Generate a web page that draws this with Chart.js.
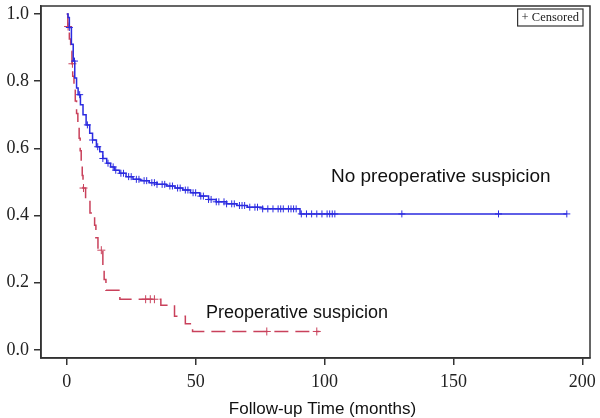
<!DOCTYPE html>
<html>
<head>
<meta charset="utf-8">
<script src="https://cdn.jsdelivr.net/npm/chart.js@4.4.0/dist/chart.umd.min.js"></script>
<style>
  html, body { margin: 0; padding: 0; background: #fff; }
  #wrap { width: 600px; height: 418px; }
</style>
</head>
<body>
<div id="wrap"><canvas id="km"></canvas></div>
<script>
// no preoperative suspicion (blue) - step points, months / survival
const noSuspTime = [0, 0.5, 1, 1.8, 2.5, 3.1, 3.8, 4.4, 5.3, 6.3, 7.5, 8.9, 10, 11.5, 12.8, 14, 15.5, 17, 18.5, 20.5, 23, 25.7, 28.5, 32, 35, 38.6, 42, 45, 48, 51.6, 55, 58, 62, 66, 70, 76, 90.5, 194];
const noSuspSurv = [1.0, 0.99, 0.96, 0.91, 0.86, 0.81, 0.78, 0.76, 0.73, 0.70, 0.67, 0.645, 0.625, 0.605, 0.59, 0.57, 0.556, 0.545, 0.535, 0.526, 0.516, 0.508, 0.504, 0.498, 0.493, 0.488, 0.482, 0.476, 0.468, 0.458, 0.448, 0.441, 0.435, 0.43, 0.425, 0.42, 0.405, 0.405];
const noSuspCensored = [1, 3, 5, 8, 10, 12, 14, 16, 18, 19, 21, 22, 24, 25, 27, 28, 30, 31, 33, 34, 35, 37, 38, 40, 41, 43, 44, 46, 47, 49, 50, 52, 53, 55, 56, 58, 59, 61, 62, 64, 65, 67, 68, 69, 71, 73, 74, 76, 78, 80, 82, 83, 84, 86, 87, 88, 89, 91, 93, 95, 97, 99, 101, 102, 103, 104, 130, 167.5, 194];

// preoperative suspicion (red)
const suspTime = [0, 0.4, 1.0, 1.5, 2.0, 2.3, 2.8, 3.3, 3.8, 4.3, 4.8, 5.2, 5.6, 6.0, 6.3, 7.3, 9.0, 10.8, 11.3, 12.1, 14.0, 14.5, 15.2, 20.6, 36.5, 41.8, 46, 48.8, 98];
const suspSurv = [1.0, 0.963, 0.926, 0.889, 0.852, 0.815, 0.778, 0.741, 0.704, 0.667, 0.63, 0.593, 0.556, 0.519, 0.482, 0.445, 0.408, 0.371, 0.334, 0.297, 0.25, 0.21, 0.178, 0.151, 0.133, 0.10, 0.078, 0.055, 0.055];
const suspCensored = [0.5, 2.2, 6.5, 13.4, 30.6, 32.4, 34, 77.6, 97];

const xTicks = [0, 50, 100, 150, 200];
const yTicks = [0.0, 0.2, 0.4, 0.6, 0.8, 1.0];

const blue = "#2b2be0";
const red = "#c9415b";

function toPts(t, s) {
  return t.map((v, i) => ({x: v, y: s[i]}));
}
// survival value of a step curve at time t
function survAt(t, s, at) {
  let val = s[0];
  for (let i = 0; i < t.length; i++) {
    if (t[i] <= at) val = s[i];
  }
  return val;
}
function marks(times, t, s) {
  return times.map(v => ({x: v, y: survAt(t, s, v)}));
}

const framePlugin = {
  id: "frame",
  afterDraw(chart) {
    const {ctx, chartArea: a, scales} = chart;
    ctx.save();
    ctx.strokeStyle = "#333";
    ctx.lineWidth = 1.5;
    ctx.strokeRect(a.left, a.top, a.right - a.left, a.bottom - a.top);

    // censored legend box
    ctx.font = "12.5px 'Liberation Serif'";
    const txt = "+ Censored";
    const w = ctx.measureText(txt).width;
    const bx = a.right - w - 15, by = a.top + 3;
    ctx.lineWidth = 1.2;
    ctx.strokeRect(bx, by, w + 8, 17);
    ctx.fillStyle = "#222";
    ctx.textBaseline = "middle";
    ctx.fillText(txt, bx + 4, by + 9);

    // curve labels
    ctx.fillStyle = "#111";
    ctx.font = "19px 'Liberation Sans'";
    ctx.fillText("No preoperative suspicion", scales.x.getPixelForValue(102.5), scales.y.getPixelForValue(0.515));
    ctx.font = "18px 'Liberation Sans'";
    ctx.fillText("Preoperative suspicion", scales.x.getPixelForValue(54), scales.y.getPixelForValue(0.11));

    // x axis title
    ctx.font = "17px 'Liberation Sans'";
    ctx.textAlign = "center";
    ctx.fillText("Follow-up Time (months)", (a.left + a.right) / 2 + 7, 409);
    ctx.restore();
  }
};

new Chart(document.getElementById("km"), {
  type: "scatter",
  data: {
    datasets: [{
      data: toPts(noSuspTime, noSuspSurv),
      showLine: true,
      stepped: true,
      borderColor: blue,
      borderWidth: 1.5,
      pointRadius: 0
    }, {
      data: marks(noSuspCensored, noSuspTime, noSuspSurv),
      showLine: false,
      pointStyle: "cross",
      pointRadius: 3.5,
      borderColor: blue,
      borderWidth: 1
    }, {
      data: toPts(suspTime, suspSurv),
      showLine: true,
      stepped: true,
      borderColor: red,
      borderWidth: 1.5,
      borderDash: [14, 7],
      pointRadius: 0
    }, {
      data: marks(suspCensored, suspTime, suspSurv),
      showLine: false,
      pointStyle: "cross",
      pointRadius: 4,
      borderColor: red,
      borderWidth: 1
    }]
  },
  options: {
    responsive: true,
    maintainAspectRatio: false,
    animation: false,
    layout: {padding: {top: 6, right: 10, left: 0, bottom: 0}},
    plugins: {
      legend: {display: false},
      tooltip: {enabled: false}
    },
    scales: {
      x: {
        type: "linear",
        min: -10,
        max: 203,
        afterBuildTicks: s => { s.ticks = xTicks.map(v => ({value: v})); },
        afterFit: s => { s.height = 60; s.paddingLeft = 0; s.paddingRight = 0; },
        grid: {drawOnChartArea: false, tickLength: 7, color: "#333", lineWidth: 1.5},
        border: {color: "#333", width: 1.5},
        ticks: {color: "#222", font: {family: "'Liberation Serif'", size: 18}, padding: 6}
      },
      y: {
        min: -0.024,
        max: 1.024,
        afterBuildTicks: s => { s.ticks = yTicks.map(v => ({value: v})); },
        afterFit: s => { s.width = 41; s.paddingTop = 0; s.paddingBottom = 0; },
        grid: {drawOnChartArea: false, tickLength: 7, color: "#333", lineWidth: 1.5},
        border: {color: "#333", width: 1.5},
        ticks: {color: "#222", font: {family: "'Liberation Serif'", size: 18}, padding: 5,
          callback: v => v.toFixed(1)}
      }
    }
  },
  plugins: [framePlugin]
});
</script>
</body>
</html>
